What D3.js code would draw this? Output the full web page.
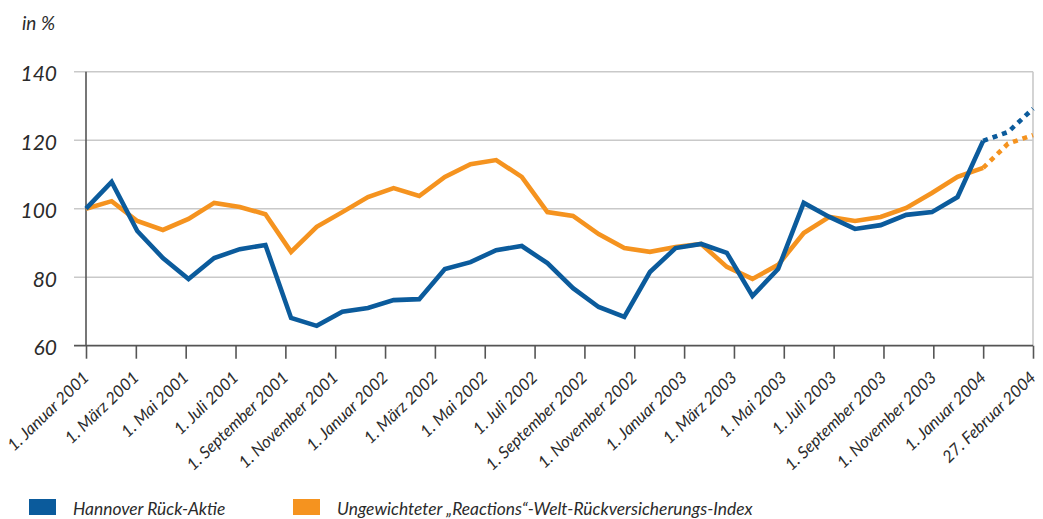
<!DOCTYPE html>
<html>
<head>
<meta charset="utf-8">
<script src="https://cdn.jsdelivr.net/npm/d3@7"></script>
<style>
  html, body { margin: 0; padding: 0; background: #fff; }
  svg { display: block; }
  text { font-family: Lato, "Noto Sans", sans-serif; font-style: italic; fill: #2b2b2b; }
</style>
</head>
<body>
<svg id="chart" width="1043" height="519"></svg>
<script>
const tickLabels = [
  "1. Januar 2001", "1. März 2001", "1. Mai 2001", "1. Juli 2001", "1. September 2001", "1. November 2001",
  "1. Januar 2002", "1. März 2002", "1. Mai 2002", "1. Juli 2002", "1. September 2002", "1. November 2002",
  "1. Januar 2003", "1. März 2003", "1. Mai 2003", "1. Juli 2003", "1. September 2003", "1. November 2003",
  "1. Januar 2004", "27. Februar 2004"
];
const yTicks = [60, 80, 100, 120, 140];

const hannover = [
  100.0, 107.8, 93.5, 85.6, 79.5, 85.6, 88.2, 89.4, 68.1, 65.8,
  69.9, 71.0, 73.3, 73.6, 82.4, 84.4, 87.9, 89.1, 84.1, 76.8,
  71.3, 68.4, 81.5, 88.5, 89.7, 87.1, 74.5, 82.4, 101.7, 97.6,
  94.1, 95.2, 98.2, 99.0, 103.4, 119.8
];
const reactions = [
  100.0, 102.2, 96.4, 93.8, 97.0, 101.7, 100.5, 98.4, 87.4, 94.7,
  99.0, 103.4, 106.0, 103.7, 109.3, 113.0, 114.2, 109.3, 99.0, 97.9,
  92.6, 88.5, 87.4, 88.8, 89.7, 83.0, 79.5, 83.6, 92.9, 97.6,
  96.4, 97.6, 100.2, 104.6, 109.3, 111.9
];
const hannoverProj = [119.8, 122.4, 129.2];
const reactionsProj = [111.9, 119.0, 121.5];

const seriesNames = ["Hannover Rück-Aktie", "Ungewichteter „Reactions“-Welt-Rückversicherungs-Index"];
const colors = ["#0b5b9c", "#f5931f"];

const svg = d3.select("#chart");
const mLeft = 86, mRight = 1033, mTop = 71.7, mBottom = 345.7;

const x = d3.scaleLinear().domain([0, tickLabels.length - 1]).range([mLeft, mRight]);
const y = d3.scaleLinear().domain([60, 140]).range([mBottom, mTop]);

// solid series positions (monthly points up to 1. Januar 2004)
const xs = d3.scalePoint().domain(d3.range(hannover.length)).range([x(0), x(18)]);
const xp = d3.scalePoint().domain(d3.range(hannoverProj.length)).range([x(18), x(19)]);

// gridlines
svg.append("g").selectAll("line").data(yTicks.filter(v => v > 60)).join("line")
  .attr("x1", 74).attr("x2", mRight)
  .attr("y1", d => y(d)).attr("y2", d => y(d))
  .attr("stroke", "#c9c9c9").attr("stroke-width", 1.6);

// right border
svg.append("line").attr("x1", mRight).attr("x2", mRight).attr("y1", y(140)).attr("y2", y(60))
  .attr("stroke", "#c9c9c9").attr("stroke-width", 1.6);

// y labels
svg.append("g").selectAll("text").data(yTicks).join("text")
  .attr("x", 57).attr("y", d => y(d)).attr("dy", "0.45em")
  .attr("text-anchor", "end").attr("font-size", 21).text(d => d);

svg.append("text").attr("x", 22).attr("y", 30).attr("font-size", 19).text("in %");

// axes
const xAxis = d3.axisBottom(x).tickValues(d3.range(tickLabels.length)).tickSize(13).tickFormat("");
const gx = svg.append("g").attr("transform", `translate(0,${mBottom})`).call(xAxis);
gx.select(".domain").remove();
gx.selectAll(".tick line").attr("stroke", "#555").attr("stroke-width", 1.6);
svg.append("line").attr("x1", 74).attr("x2", mRight).attr("y1", mBottom).attr("y2", mBottom)
  .attr("stroke", "#555").attr("stroke-width", 1.8);
svg.append("line").attr("x1", mLeft).attr("x2", mLeft).attr("y1", y(140)).attr("y2", mBottom)
  .attr("stroke", "#555").attr("stroke-width", 1.6);

// x labels
svg.append("g").selectAll("text").data(tickLabels).join("text")
  .attr("transform", (d, i) => `translate(${x(i) + 4},${mBottom + 33}) rotate(-44)`)
  .attr("text-anchor", "end").attr("font-size", 16.6).text(d => d);

// lines
const lineS = d3.line().x((d, i) => xs(i)).y(d => y(d));
const lineP = d3.line().x((d, i) => xp(i)).y(d => y(d));

[[reactions, reactionsProj, colors[1]], [hannover, hannoverProj, colors[0]]].forEach(([s, p, c]) => {
  svg.append("path").datum(p).attr("d", lineP).attr("fill", "none")
    .attr("stroke", c).attr("stroke-width", 4.6).attr("stroke-dasharray", "5,5");
  svg.append("path").datum(s).attr("d", lineS).attr("fill", "none")
    .attr("stroke", c).attr("stroke-width", 4.6).attr("stroke-linejoin", "miter");
});

// legend
const legX = [29, 293];
seriesNames.forEach((n, i) => {
  svg.append("rect").attr("x", legX[i]).attr("y", 499).attr("width", 27).attr("height", 16).attr("fill", colors[i]);
  svg.append("text").attr("x", legX[i] + 44).attr("y", 515).attr("font-size", 17.4).attr("fill", "#3a3a3a").text(n);
});
</script>
</body>
</html>
